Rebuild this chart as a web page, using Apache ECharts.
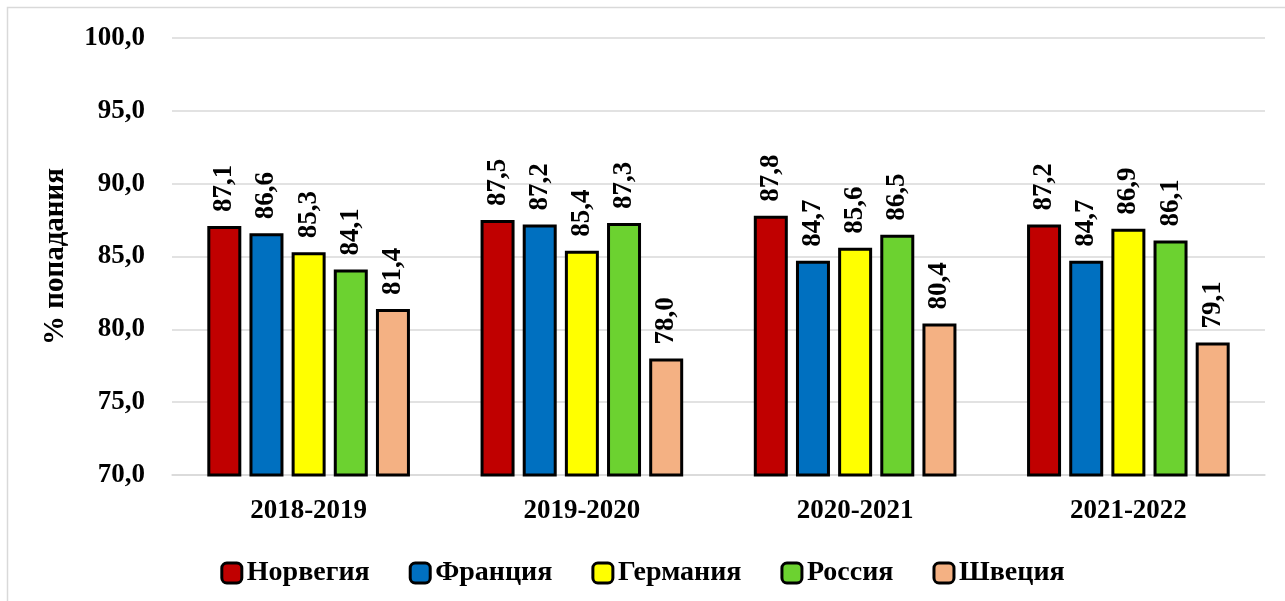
<!DOCTYPE html>
<html>
<head>
<meta charset="utf-8">
<script src="https://cdn.jsdelivr.net/npm/echarts@6/dist/echarts.min.js"></script>
<style>
  html, body { margin: 0; padding: 0; background: #fff; }
  #chart { width: 1285px; height: 601px; }
</style>
</head>
<body>
<div id="chart"></div>
<script>
const seasons = ['2018-2019', '2019-2020', '2020-2021', '2021-2022'];
const countries = ['Норвегия', 'Франция', 'Германия', 'Россия', 'Швеция'];
const norway = [87.1, 87.5, 87.8, 87.2];
const france = [86.6, 87.2, 84.7, 84.7];
const germany = [85.3, 85.4, 85.6, 86.9];
const russia = [84.1, 87.3, 86.5, 86.1];
const sweden = [81.4, 78.0, 80.4, 79.1];
const colors = ['#C00000', '#0070C0', '#FFFF00', '#6CD230', '#F4B183'];

const font = 'Liberation Serif';
const values = [norway, france, germany, russia, sweden];

const seriesDefault = {
  type: 'bar',
  barWidth: 34,
  barGap: '24%',
  itemStyle: { borderColor: '#000', borderWidth: 3 },
  label: {
    show: true,
    position: 'top',
    rotate: 90,
    align: 'left',
    verticalAlign: 'middle',
    distance: 14,
    color: '#000',
    fontFamily: font,
    fontWeight: 'bold',
    fontSize: 27,
    formatter: (p) => p.value.toFixed(1).replace('.', ',')
  }
};

const chart = echarts.init(document.getElementById('chart'));
chart.setOption({
  animation: false,
  color: colors,
  grid: { left: 172, right: 20, top: 38, bottom: 126 },
  graphic: [{
    type: 'rect',
    shape: { x: 7.5, y: 7.5, width: 1320, height: 640 },
    style: { fill: 'none', stroke: '#d9d9d9', lineWidth: 1.5 },
    silent: true
  }],
  legend: {
    top: 554,
    left: 'center',
    itemWidth: 20,
    itemHeight: 20,
    itemGap: 39,
    itemStyle: { borderWidth: 3, borderColor: '#000' },
    textStyle: { fontFamily: font, fontWeight: 'bold', fontSize: 28, color: '#000' },
    data: countries
  },
  xAxis: {
    type: 'category',
    data: seasons,
    axisLine: { lineStyle: { color: '#d9d9d9', width: 1.5 } },
    axisTick: { show: false },
    axisLabel: { margin: 23, color: '#000', fontFamily: font, fontWeight: 'bold', fontSize: 27 }
  },
  yAxis: {
    type: 'value',
    min: 70,
    max: 100,
    interval: 5,
    name: '% попадания',
    nameLocation: 'middle',
    nameGap: 102,
    nameTextStyle: { color: '#000', fontFamily: font, fontWeight: 'bold', fontSize: 29 },
    axisLine: { show: false },
    axisTick: { show: false },
    splitLine: { lineStyle: { color: '#d9d9d9', width: 1.5 } },
    axisLabel: {
      margin: 27,
      color: '#000',
      fontFamily: font,
      fontWeight: 'bold',
      fontSize: 27,
      formatter: (v) => v.toFixed(1).replace('.', ',')
    }
  },
  series: countries.map((name, i) => ({ ...seriesDefault, name, data: values[i] }))
});
</script>
</body>
</html>
